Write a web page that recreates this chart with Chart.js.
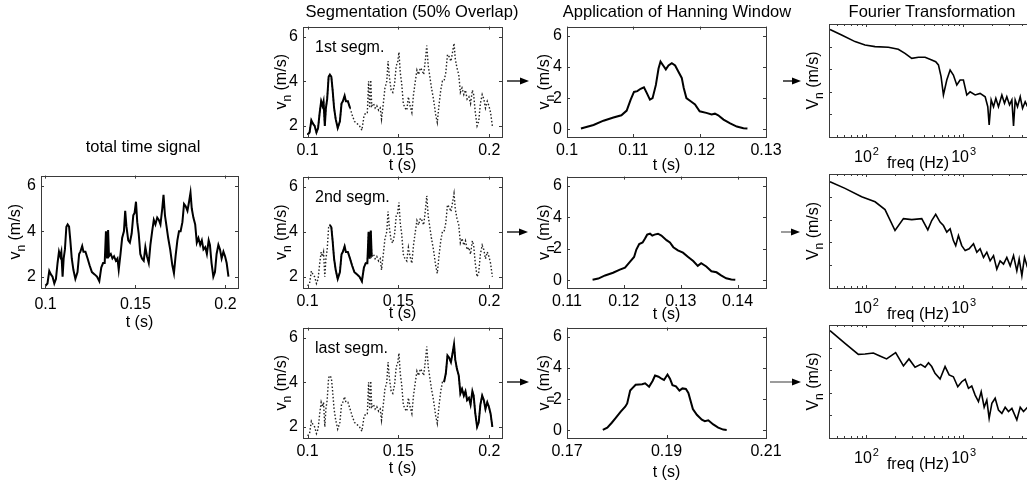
<!DOCTYPE html>
<html>
<head>
<meta charset="utf-8">
<script src="https://cdn.jsdelivr.net/npm/chart.js@4.4.1/dist/chart.umd.min.js"></script>
<style>
html, body { margin: 0; padding: 0; background: #fff; overflow: hidden; }
#wrap { position: relative; width: 1027px; height: 490px; overflow: hidden; }
#wrap canvas { position: absolute; }
.ttl { position: absolute; font: 16.5px "Liberation Sans", Arial, sans-serif; color: #000; white-space: nowrap; transform: translate(-50%, -50%); }
#arrows { position: absolute; left: 0; top: 0; }
</style>
</head>
<body>
<div id="wrap">
  <div class="ttl" style="left:143px; top:146px">total time signal</div>
  <div class="ttl" style="left:412px; top:11px">Segmentation (50% Overlap)</div>
  <div class="ttl" style="left:677px; top:11px">Application of Hanning Window</div>
  <div class="ttl" style="left:932px; top:11px">Fourier Transformation</div>
  <svg id="arrows" width="1027" height="490">
    <g stroke="#000" stroke-width="1.3">
      <line x1="507" y1="81" x2="522" y2="81"/>
      <line x1="507" y1="232" x2="521" y2="232"/>
      <line x1="507" y1="382" x2="522" y2="382"/>
      <line x1="783" y1="81" x2="793" y2="81"/>
      <line x1="781" y1="232" x2="792" y2="232" stroke="#666"/>
      <line x1="770" y1="382" x2="793" y2="382" stroke="#666"/>
    </g>
    <g fill="#000">
      <polygon points="520,77.5 529,81 520,84.5"/>
      <polygon points="519,228.5 528,232 519,235.5"/>
      <polygon points="520,378.5 529,382 520,385.5"/>
      <polygon points="792,77.5 801,81 792,84.5"/>
      <polygon points="791,228.5 800,232 791,235.5"/>
      <polygon points="792,378.5 801,382 792,385.5"/>
    </g>
  </svg>
</div>
<script>
// total time signal
const sigT = [0.1,0.1011,0.1021,0.103,0.1039,0.1049,0.1058,0.1067,0.1075,0.1082,0.1088,0.1095,0.1101,0.1108,0.1116,0.1123,0.1131,0.1138,0.1146,0.1155,0.1166,0.1178,0.1187,0.1194,0.1204,0.1211,0.1222,0.1234,0.1245,0.1258,0.1273,0.1286,0.1299,0.131,0.132,0.1329,0.1336,0.1342,0.1348,0.1353,0.1363,0.1372,0.1381,0.1391,0.14,0.1407,0.1417,0.1426,0.1436,0.1443,0.145,0.146,0.1469,0.1479,0.1488,0.1495,0.1503,0.151,0.1518,0.1527,0.1536,0.1546,0.1555,0.1564,0.1574,0.1583,0.1593,0.1602,0.1611,0.1621,0.163,0.1639,0.1649,0.1656,0.1664,0.1673,0.1682,0.1693,0.1705,0.1714,0.1723,0.1733,0.1742,0.1751,0.1761,0.177,0.1779,0.1789,0.1798,0.1806,0.1813,0.1822,0.1832,0.1841,0.185,0.186,0.1869,0.1878,0.1888,0.1897,0.1907,0.1914,0.1923,0.1933,0.1942,0.1951,0.1961,0.197,0.1979,0.1989,0.1998,0.2007,0.2017]
const sigV = [1.6,1.7,2.25,2.1,2.0,1.7,1.9,2.6,3.1,2.9,3.1,2.0,2.8,3.2,4.2,4.3,4.2,3.6,2.8,2.3,1.9,2.2,3.0,3.1,3.35,3.1,3.1,2.8,2.5,2.2,2.1,2.0,1.8,2.4,2.6,2.6,4.0,2.8,4.05,2.9,3.0,2.8,2.9,2.7,2.8,2.3,3.0,3.7,4.0,4.9,4.2,3.6,3.5,3.9,4.7,4.8,5.3,4.4,3.9,3.0,2.8,2.7,3.3,2.9,2.6,3.4,4.0,4.5,4.3,4.6,4.5,4.3,5.0,5.6,4.7,4.2,3.7,3.2,2.5,2.15,2.9,3.6,4.0,4.0,4.4,5.2,5.1,4.9,5.3,5.7,5.0,4.6,4.3,3.5,3.7,3.4,3.6,3.2,3.3,3.0,3.6,3.4,2.6,2.0,2.2,3.0,3.4,3.2,2.8,3.1,2.9,2.6,2.0]

// solid part of each segmentation panel (start / end time)
const segNames = ['1st segm.', '2nd segm.', 'last segm.']
const segStart = [0.1, 0.1123, 0.1745]
const segEnd = [0.1236, 0.1355, 0.2017]

// Hanning-windowed segments
const han1T = [0.1021,0.104,0.1055,0.107,0.1082,0.109,0.1096,0.1101,0.1106,0.1111,0.1116,0.112,0.1125,0.1129,0.1134,0.1138,0.1141,0.1145,0.1149,0.1153,0.1158,0.1163,0.1168,0.1173,0.1176,0.118,0.1188,0.1193,0.12,0.121,0.1218,0.1223,0.1228,0.1236,0.1246,0.1256,0.1266,0.1272]
const han1V = [0.05,0.27,0.55,0.75,0.9,1.2,1.9,2.4,2.45,2.6,2.7,2.35,1.9,2.0,2.85,3.9,4.35,4.1,3.85,4.1,4.25,4.1,3.7,3.3,2.65,2.0,1.75,1.6,1.15,1.05,0.95,1.0,0.9,0.62,0.38,0.17,0.06,0.04]
const han2T = [0.1145,0.1155,0.1167,0.1181,0.1193,0.1202,0.1211,0.1218,0.1222,0.1227,0.1233,0.1237,0.1241,0.1246,0.125,0.1254,0.126,0.1266,0.1275,0.1281,0.1287,0.1295,0.1304,0.1313,0.1322,0.133,0.1336,0.1345,0.1354,0.1363,0.1371,0.138,0.1389,0.1396]
const han2V = [0.02,0.1,0.3,0.47,0.67,0.8,1.18,1.48,1.95,2.3,2.4,2.64,2.9,2.96,2.84,2.9,2.96,2.84,2.55,2.4,2.1,1.9,1.75,1.48,1.22,0.91,1.08,0.87,0.57,0.5,0.3,0.12,0.04,0.02]
const han3T = [0.1772,0.1781,0.179,0.1798,0.1808,0.1817,0.1821,0.1827,0.1831,0.1838,0.1845,0.1851,0.1857,0.1865,0.1872,0.1877,0.1884,0.189,0.1895,0.1902,0.1907,0.1912,0.1919,0.1926,0.1932,0.1939,0.1944,0.1953,0.1961,0.1971,0.1977,0.1984,0.1994,0.2004,0.2014,0.2021]
const han3V = [0.02,0.17,0.48,0.79,1.2,1.51,1.72,2.55,2.69,2.92,2.94,2.96,3.02,2.8,3.17,3.52,3.44,3.31,3.23,3.58,3.31,2.9,2.82,2.55,2.69,2.65,2.4,1.36,0.99,0.68,0.58,0.64,0.37,0.17,0.04,0.02]

// spectra (freq in Hz, amplitude)
const fou1F = [42.6,56.1,77.1,97.7,124,170,215,252,296,347,406,475,522,557,593,627,679,735,794,861,931,1007,1091,1180,1330,1496,1687,1795,1854,1945,2056,2173,2312,2506,2667,2818,3006,3177,3304,3436,3631,3873,4093,4355,4603]
const fou1A = [0.575,0.324,0.166,0.117,0.1,0.0933,0.0759,0.0501,0.0302,0.0339,0.0339,0.0257,0.0214,0.0155,0.00468,0.000724,0.00331,0.00912,0.0055,0.002,0.00331,0.00331,0.000724,0.001,0.000724,0.000851,0.000603,0.000219,0.0000339,0.000437,0.000219,0.000513,0.000219,0.000724,0.000309,0.000603,0.000263,0.000437,0.0000309,0.000437,0.000219,0.000603,0.000186,0.000363,0.000219]
const fou2F = [42.6,60.8,90.2,124,157,199,243,296,375,433,475,522,579,627,679,735,794,839,895,968,1050,1153,1279,1384,1496,1622,1754,1897,2056,2223,2404,2606,2818,3055,3304,3573,3776,4027,4285,4603]
const fou2A = [0.457,0.234,0.1,0.0603,0.0275,0.00331,0.011,0.01,0.011,0.00355,0.00912,0.017,0.00776,0.0055,0.00282,0.00398,0.0012,0.000724,0.002,0.000724,0.000437,0.000525,0.000871,0.000372,0.000525,0.000219,0.000372,0.000155,0.000263,0.0000676,0.000155,0.000112,0.000219,0.0000933,0.000263,0.0000562,0.000186,0.0000347,0.000219,0.0000794]
const fou3F = [42.6,60.8,83.4,97.7,119,139,163,202,243,277,320,366,406,440,475,514,579,652,718,794,881,968,1050,1135,1227,1330,1439,1535,1648,1754,1854,1977,2138,2312,2506,2710,2931,3177,3573,3873,4188,4603]
const fou3A = [0.562,0.155,0.0501,0.0525,0.0575,0.0427,0.0316,0.0603,0.0155,0.0316,0.0135,0.0182,0.0135,0.0214,0.0145,0.00724,0.00407,0.0145,0.00617,0.00513,0.00186,0.00309,0.00398,0.00158,0.002,0.000794,0.000407,0.00112,0.000229,0.000479,0.0000741,0.000339,0.000575,0.000174,0.000123,0.000229,0.000148,0.000204,0.0000631,0.000229,0.000148,0.000229]

// tick values
const sigTicksX = [0.1, 0.15, 0.2]
const sigTicksY = [2, 4, 6]
const hanTicksX = [[0.1, 0.11, 0.12, 0.13], [0.11, 0.12, 0.13, 0.14], [0.17, 0.19, 0.21]]
const hanTicksY = [0, 2, 4, 6]
const fouTicksX = [50, 60, 70, 80, 90, 100, 200, 300, 400, 500, 600, 700, 800, 900, 1000, 2000, 3000, 4000, 5000]
const fouTicksY = [1e-5, 1e-4, 1e-3, 1e-2, 1e-1, 1]

const FONT = '"Liberation Sans", Arial, sans-serif'
const PAD_L = 50, PAD_R = 25, PAD_T = 12, PAD_B = 45
const wrap = document.getElementById('wrap')

function pts(xs, ys) {
    return xs.map((x, i) => ({ x: x, y: ys[i] }))
}

function isDecade(v) {
    const e = Math.log10(v)
    return Math.abs(e - Math.round(e)) < 1e-6
}

// rotated y title with a subscript
function drawYTitle(ctx, x, y, parts) {
    ctx.save()
    ctx.translate(x, y)
    ctx.rotate(-Math.PI / 2)
    let total = 0
    parts.forEach(p => { ctx.font = p.size + 'px ' + FONT; total += ctx.measureText(p.t).width })
    let cx = -total / 2
    ctx.textAlign = 'left'
    ctx.textBaseline = 'alphabetic'
    parts.forEach(p => {
        ctx.font = p.size + 'px ' + FONT
        ctx.fillText(p.t, cx, 6 + (p.dy || 0))
        cx += ctx.measureText(p.t).width
    })
    ctx.restore()
}

// MATLAB style box with inner ticks, axis titles, notes
const boxPlugin = {
    id: 'boxPlugin',
    afterDatasetsDraw(chart, args, o) {
        const ctx = chart.ctx, a = chart.chartArea
        const xs = chart.scales.x, ys = chart.scales.y
        ctx.save()
        ctx.strokeStyle = '#3a3a3a'
        ctx.lineWidth = 1
        ctx.strokeRect(Math.round(a.left) + 0.5, Math.round(a.top) + 0.5, Math.round(a.right - a.left), Math.round(a.bottom - a.top))
        ctx.beginPath()
        xs.ticks.forEach(tk => {
            const len = (o.logX && !isDecade(tk.value)) ? 2 : 3
            const px = Math.round(xs.getPixelForValue(tk.value)) + 0.5
            ctx.moveTo(px, a.bottom); ctx.lineTo(px, a.bottom - len)
            ctx.moveTo(px, a.top); ctx.lineTo(px, a.top + len)
        })
        ys.ticks.forEach(tk => {
            const py = Math.round(ys.getPixelForValue(tk.value)) + 0.5
            ctx.moveTo(a.left, py); ctx.lineTo(a.left + 3, py)
            ctx.moveTo(a.right, py); ctx.lineTo(a.right - 3, py)
        })
        ctx.stroke()

        ctx.fillStyle = '#000'
        const cx = (a.left + a.right) / 2
        if (o.logX) {
            // 10^n labels
            xs.ticks.forEach(tk => {
                if (!isDecade(tk.value)) return
                const ex = String(Math.round(Math.log10(tk.value)))
                ctx.font = '16px ' + FONT
                const w1 = ctx.measureText('10').width
                ctx.font = '11px ' + FONT
                const w2 = ctx.measureText(ex).width
                const x0 = xs.getPixelForValue(tk.value) - (w1 + w2) / 2
                ctx.textAlign = 'left'
                ctx.textBaseline = 'alphabetic'
                ctx.font = '16px ' + FONT
                ctx.fillText('10', x0, a.bottom + 25)
                ctx.font = '11px ' + FONT
                ctx.fillText(ex, x0 + w1 + 1, a.bottom + 18)
            })
        }
        ctx.font = '16px ' + FONT
        ctx.textAlign = 'center'
        ctx.textBaseline = 'middle'
        ctx.fillText(o.xTitle, (o.xTitleX != null ? a.left + o.xTitleX : cx), a.bottom + o.xTitleDy)
        drawYTitle(ctx, a.left - o.yTitleDx, (a.top + a.bottom) / 2, o.yTitle)
        if (o.note) {
            ctx.textAlign = 'left'
            ctx.fillText(o.note, a.left + 12, a.top + 21)
        }
        ctx.restore()
    }
}

function makePanel(box, datasets, xOpts, yOpts, extra, xPad) {
    const c = document.createElement('canvas')
    c.width = box.r - box.l + PAD_L + PAD_R
    c.height = box.b - box.t + PAD_T + PAD_B
    c.style.left = (box.l - PAD_L) + 'px'
    c.style.top = (box.t - PAD_T) + 'px'
    wrap.insertBefore(c, wrap.firstChild)
    const tickFont = { family: FONT, size: 16 }
    return new Chart(c, {
        type: 'scatter',
        data: { datasets: datasets },
        options: {
            responsive: false,
            animation: false,
            events: [],
            layout: { padding: { top: PAD_T, right: PAD_R, left: 0, bottom: 0 } },
            plugins: { legend: { display: false }, tooltip: { enabled: false }, boxPlugin: extra },
            scales: {
                x: Object.assign({
                    grid: { display: false, drawTicks: false },
                    border: { display: false },
                    ticks: { font: tickFont, color: '#000', padding: xPad || 4, maxRotation: 0, autoSkip: false,
                        callback: v => String(+v.toFixed(3)) },
                    afterFit: s => { s.height = PAD_B }
                }, xOpts),
                y: Object.assign({
                    grid: { display: false, drawTicks: false },
                    border: { display: false },
                    ticks: { font: tickFont, color: '#000', padding: 5, autoSkip: false,
                        callback: v => String(v) },
                    afterFit: s => { s.width = PAD_L }
                }, yOpts)
            }
        },
        plugins: [boxPlugin]
    })
}

function line(xs, ys, w, dash, color) {
    return { data: pts(xs, ys), showLine: true, borderColor: color || '#000', borderWidth: w,
        borderDash: dash || [], pointRadius: 0, fill: false, tension: 0 }
}

const vTitle = [{ t: 'v', size: 16 }, { t: 'n', size: 12, dy: 5 }, { t: ' (m/s)', size: 16 }]
const VTitle = [{ t: 'V', size: 16 }, { t: 'n', size: 12, dy: 5 }, { t: ' (m/s)', size: 16 }]

function ticksFrom(arr) {
    return s => { s.ticks = arr.map(v => ({ value: v })) }
}

const sigX = { type: 'linear', min: 0.0975, max: 0.207, afterBuildTicks: ticksFrom(sigTicksX) }
const sigY = { type: 'linear', min: 1.5, max: 6.45, afterBuildTicks: ticksFrom(sigTicksY) }
const hanY = { type: 'linear', min: -0.5, max: 6.6, afterBuildTicks: ticksFrom(hanTicksY) }
const fouX = { type: 'logarithmic', min: 41.6, max: 5000, afterBuildTicks: ticksFrom(fouTicksX),
    ticks: { display: false } }
const fouY = { type: 'logarithmic', min: 1e-5, max: 1, afterBuildTicks: ticksFrom(fouTicksY),
    ticks: { display: false }, afterFit: s => { s.width = PAD_L } }

// total time signal
makePanel({ l: 41, t: 173, r: 238, b: 288 }, [line(sigT, sigV, 2)], sigX, sigY,
    { xTitle: 't (s)', xTitleDy: 35, yTitle: vTitle, yTitleDx: 27 }, 7)

const rowTop = [24, 174, 325]
const rowBot = [137, 288, 438]
const xDy = [29, 26, 31]
const hanDy = [29, 27, 35]
const hanT = [han1T, han2T, han3T], hanV = [han1V, han2V, han3V]
const hanRange = [[0.1, 0.13], [0.11, 0.145], [0.17, 0.21]]
const fouF = [fou1F, fou2F, fou3F], fouA = [fou1A, fou2A, fou3A]

for (let k = 0; k < 3; k++) {
    // segmentation: full signal dotted, current segment solid
    const inSeg = sigT.map((t, i) => i).filter(i => sigT[i] >= segStart[k] && sigT[i] <= segEnd[k])
    const solidT = inSeg.map(i => sigT[i]), solidV = inSeg.map(i => sigV[i])
    makePanel({ l: 303, t: rowTop[k], r: 502, b: rowBot[k] },
        [line(solidT, solidV, 2), line(sigT, sigV, 1.4, [1.5, 2], '#222')], sigX, sigY,
        { xTitle: 't (s)', xTitleDy: xDy[k], yTitle: vTitle, yTitleDx: 23, note: segNames[k] })

    makePanel({ l: 567, t: rowTop[k], r: 766, b: rowBot[k] }, [line(hanT[k], hanV[k], 2)],
        { type: 'linear', min: hanRange[k][0], max: hanRange[k][1], afterBuildTicks: ticksFrom(hanTicksX[k]) },
        hanY,
        { xTitle: 't (s)', xTitleDy: hanDy[k], yTitle: vTitle, yTitleDx: 24 })

    makePanel({ l: 829, t: rowTop[k], r: 1031, b: rowBot[k] }, [line(fouF[k], fouA[k], 1.6)],
        fouX, fouY,
        { xTitle: 'freq (Hz)', xTitleDy: 27, xTitleX: 89, yTitle: VTitle, yTitleDx: 17, logX: true })
}
</script>
</body>
</html>
